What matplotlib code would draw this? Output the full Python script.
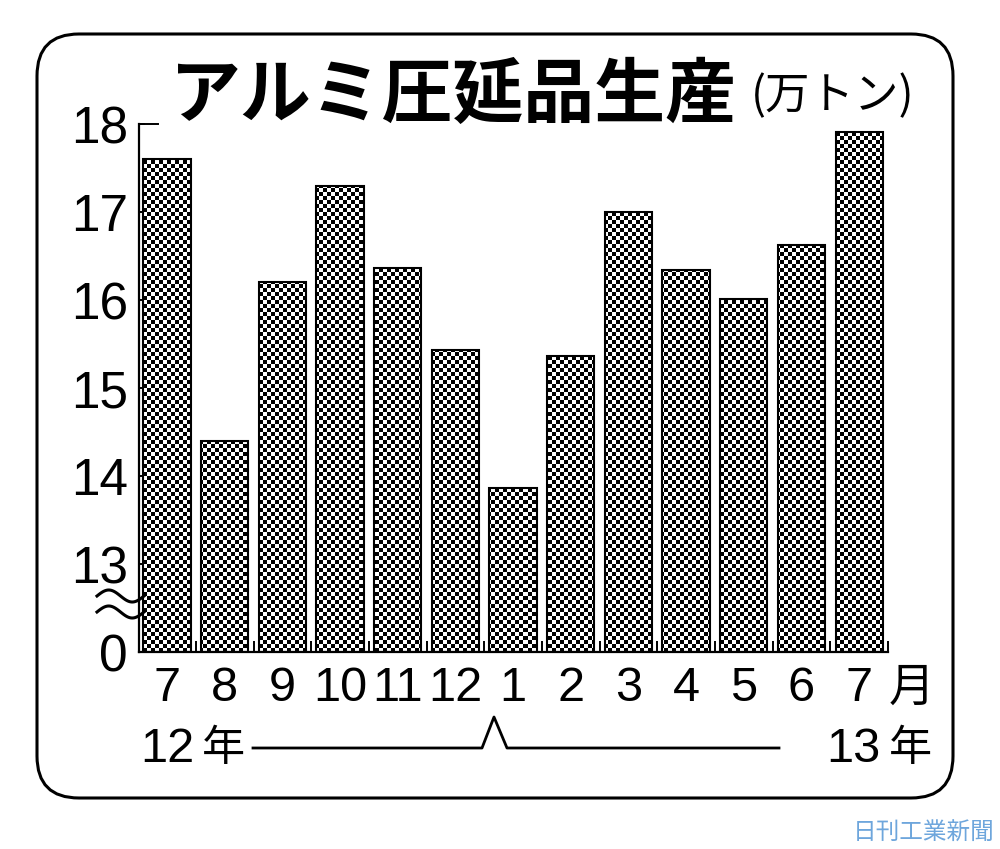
import numpy as np
import matplotlib
matplotlib.use('Agg')
import matplotlib.pyplot as plt
from matplotlib.patches import FancyBboxPatch, PathPatch
from matplotlib.path import Path
from matplotlib.lines import Line2D

# monthly aluminium rolled product output (10k tons), Jul 2012 - Jul 2013
months = ['7', '8', '9', '10', '11', '12', '1', '2', '3', '4', '5', '6', '7']
output = [17.6, 14.4, 16.2, 17.3, 16.36, 15.43, 13.86, 15.36, 17.0, 16.34, 16.01, 16.63, 17.91]
ytick_vals = [12, 13, 14, 15, 16, 17, 18]
ytick_labels = ['0', '13', '14', '15', '16', '17', '18']
base = 12  # axis is broken between 0 and 13

num_font = ['Liberation Sans', 'Noto Sans CJK JP']
jp_font = ['Noto Sans CJK JP', 'DejaVu Sans']

W, H = 1000, 849
fig = plt.figure(figsize=(W / 100, H / 100), dpi=100)

def fx(px):
    return px / W

def fy(py):
    return 1 - py / H

# rounded frame
frame = FancyBboxPatch((0.37, 0.51), 9.16, 7.64,
                       boxstyle='round,pad=0,rounding_size=0.42',
                       transform=fig.dpi_scale_trans, facecolor='none',
                       edgecolor='black', linewidth=2.2)
fig.add_artist(frame)

ax_l, ax_r, ax_t, ax_b = 139, 888, 124, 652
ax = fig.add_axes([fx(ax_l), fy(ax_b), (ax_r - ax_l) / W, (ax_b - ax_t) / H])
x = np.arange(len(months))
xmin, xmax = -0.486, 12.5
ax.set_xlim(xmin, xmax)
ax.set_ylim(12, 18)

heights = [v - base for v in output]
bars = ax.bar(x, heights, bottom=base, width=0.82, facecolor='none',
              edgecolor='black', linewidth=1.5, zorder=3)

# checkerboard fill clipped to the bars
nx, ny = (ax_r - ax_l) // 4, (ax_b - ax_t) // 4
ii, jj = np.meshgrid(np.arange(nx), np.arange(ny))
checker = (ii + jj) % 2
img = ax.imshow(checker, cmap='gray', extent=(xmin, xmax, 12, 18),
                aspect='auto', interpolation='nearest', zorder=2)
paths = [b.get_path().transformed(b.get_patch_transform()) for b in bars]
clip = PathPatch(Path.make_compound_path(*paths), transform=ax.transData,
                 facecolor='none', edgecolor='none')
img.set_clip_path(clip)

for s in ['top', 'right']:
    ax.spines[s].set_visible(False)
for s in ['left', 'bottom']:
    ax.spines[s].set_linewidth(1.6)

ax.set_yticks(ytick_vals)
ax.set_yticklabels(ytick_labels, family=num_font, fontsize=37)
ax.tick_params(axis='y', direction='in', length=4, width=1.4, pad=8)

ax.set_xticks(x)
ax.set_xticklabels(months, family=num_font, fontsize=35)
ax.tick_params(axis='x', which='major', length=0, pad=10)
ax.set_xticks(np.arange(0.5, 13, 1), minor=True)
ax.tick_params(axis='x', which='minor', direction='in', length=8, width=1.4)

# long tick at the top of the axis
ax.add_line(Line2D([0, 0.025], [1, 1], transform=ax.transAxes, color='black',
                   linewidth=1.4, clip_on=False))

# break marks between 0 and 13
t = np.linspace(0, 1, 60)
wx = fx(97 + 47 * t)
for c in [596, 612]:
    fig.add_artist(Line2D(wx, fy(c - 6 * np.sin(2 * np.pi * t)), color='black',
                          linewidth=2.2))

fig.text(fx(912), fy(688), '月', family=jp_font, fontsize=33, ha='center', va='center')

# year bracket
fig.text(fx(140), fy(749), '12', family=num_font, fontsize=35, ha='left', va='center')
fig.text(fx(223), fy(749), '年', family=jp_font, fontsize=31, ha='center', va='center')
fig.text(fx(880), fy(749), '13', family=num_font, fontsize=35, ha='right', va='center')
fig.text(fx(910), fy(749), '年', family=jp_font, fontsize=31, ha='center', va='center')
bx = [253, 482, 494, 507, 779]
by = [748, 748, 717, 748, 748]
fig.add_artist(Line2D([fx(v) for v in bx], [fy(v) for v in by], color='black', linewidth=2))

# title
fig.text(fx(170), fy(96), 'アルミ圧延品生産', family=jp_font, fontsize=51,
         fontweight='bold', ha='left', va='center')
fig.text(fx(751), fy(96), '(万トン)', family=jp_font, fontsize=32,
         ha='left', va='center')

fig.text(fx(995), fy(833), '日刊工業新聞', family=jp_font, fontsize=17,
         color='#6ea6dc', ha='right', va='center')

plt.savefig('out.png', dpi=100)
